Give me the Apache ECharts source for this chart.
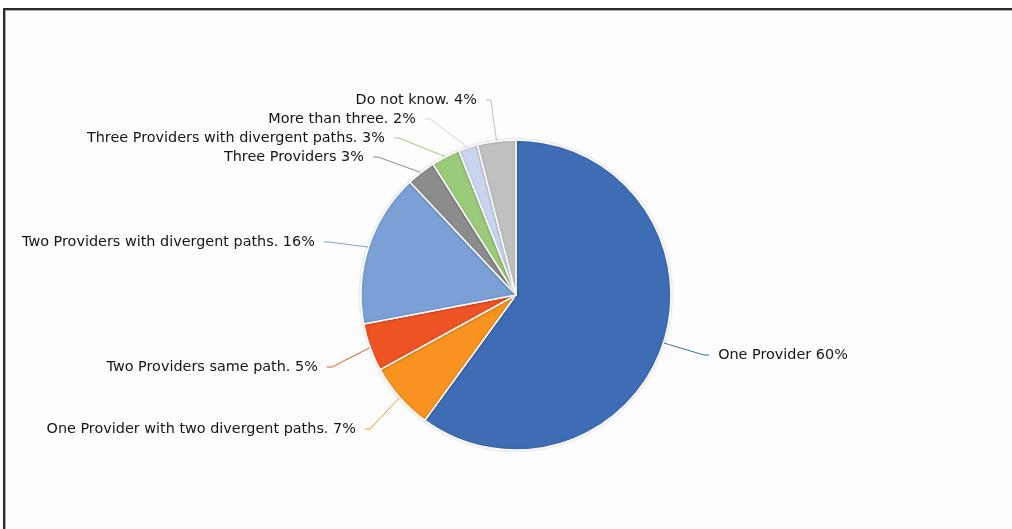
<!DOCTYPE html>
<html>
<head>
<meta charset="utf-8">
<script src="https://cdn.jsdelivr.net/npm/echarts@6/dist/echarts.min.js"></script>
<style>
  html, body { margin: 0; padding: 0; background: #ffffff; overflow: hidden; width: 1012px; height: 529px; }
  #frame {
    position: absolute; left: 3px; top: 8px; width: 1030px; height: 540px;
    border-top: 2px solid #2b2b2b; border-left: 2px solid #2b2b2b;
    box-shadow: inset 1px 1px 0 #a8a8a8;
    background: #fdfdfd;
  }
  #chart { position: absolute; left: 0; top: 0; width: 1012px; height: 529px; }
</style>
</head>
<body>
<div id="frame"></div>
<div id="chart"></div>
<script>
// Survey answers: number of internet providers / paths
const categories = [
  'One Provider',
  'One Provider with two divergent paths.',
  'Two Providers same path.',
  'Two Providers with divergent paths.',
  'Three Providers',
  'Three Providers with divergent paths.',
  'More than three.',
  'Do not know.'
];
const shares = [60, 7, 5, 16, 3, 3, 2, 4];
const sliceColors = ['#3f6db5', '#f7931e', '#ee5324', '#7ba0d6', '#8c8c8c', '#9bca7b', '#c9d5ee', '#c0c0c0'];

// Label anchor per slice: [x, y, align]; x is the text edge nearest the pie
const labelAnchors = [
  [718, 355, 'left'],
  [356, 429, 'right'],
  [318, 367, 'right'],
  [315, 242, 'right'],
  [364, 157, 'right'],
  [385, 138, 'right'],
  [416, 119, 'right'],
  [477, 100, 'right']
];
// blank gap between the leader line end and the text
const gap = '\u00a0\u00a0';

const chart = echarts.init(document.getElementById('chart'), null, { renderer: 'canvas' });

chart.setOption({
  backgroundColor: 'transparent',
  animation: false,
  series: [{
    type: 'pie',
    center: [516, 295],
    radius: 155,
    startAngle: 90,
    clockwise: true,
    avoidLabelOverlap: false,
    data: categories.map((name, i) => ({
      name: name,
      value: shares[i],
      itemStyle: { color: sliceColors[i] }
    })),
    itemStyle: {
      borderColor: '#ffffff',
      borderWidth: 1.5,
      shadowBlur: 3,
      shadowColor: 'rgba(0,0,0,0.18)'
    },
    label: {
      show: true,
      formatter: p => {
        const text = p.name + ' ' + p.value + '%';
        return labelAnchors[p.dataIndex][2] === 'left' ? gap + text : text + gap;
      },
      fontFamily: 'DejaVu Sans',
      fontSize: 14.4,
      color: '#151515'
    },
    labelLine: {
      show: true,
      length: 10,
      length2: 5,
      lineStyle: { width: 1, opacity: 1 }
    },
    labelLayout: function (params) {
      const a = labelAnchors[params.dataIndex];
      const shift = 9;
      const x = a[2] === 'left' ? a[0] - shift : a[0] + shift;
      return { x: x, y: a[1], align: a[2], verticalAlign: 'middle' };
    }
  }]
});
</script>
</body>
</html>
